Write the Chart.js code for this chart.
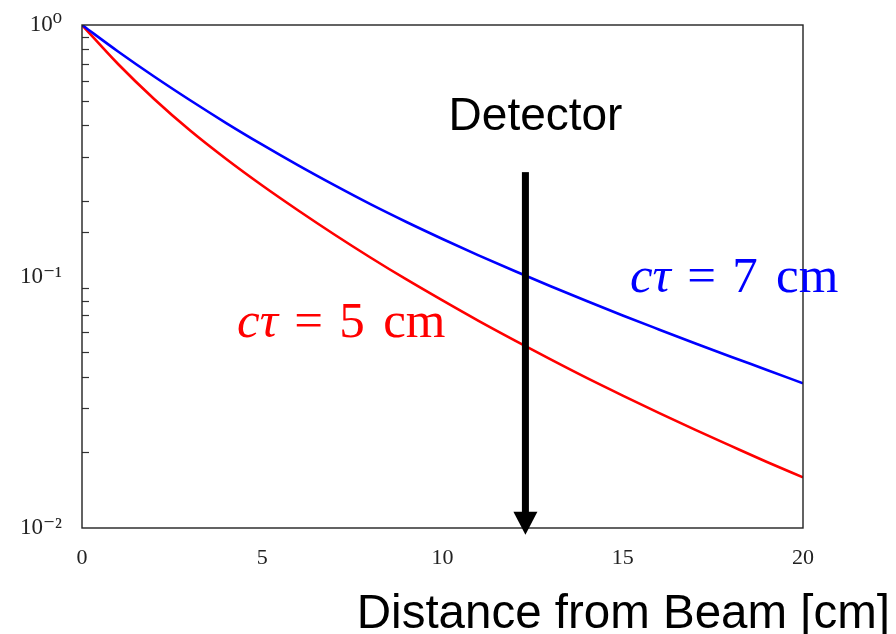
<!DOCTYPE html>
<html>
<head>
<meta charset="utf-8">
<script src="https://cdn.jsdelivr.net/npm/chart.js@4"></script>
<style>
  html, body { margin: 0; padding: 0; background: #ffffff; }
  #wrap { width: 896px; height: 634px; position: relative; }
</style>
</head>
<body>
<div id="wrap"><canvas id="c" width="896" height="634"></canvas></div>
<script>
// ---- data ----
const distance = [0, 1, 2, 3, 4, 5, 6, 7, 8, 9, 10, 11, 12, 13, 14, 15, 16, 17, 18, 19, 20];
const ctau7 = [1.0, 0.7846, 0.6240, 0.5020, 0.4076, 0.3343, 0.2765, 0.2307, 0.1939, 0.1647, 0.1410,
               0.1214, 0.1052, 0.0915, 0.0799, 0.0700, 0.0616, 0.0543, 0.0480, 0.0425, 0.0376];
const ctau5 = [1.0, 0.6997, 0.5078, 0.3805, 0.2932, 0.2300, 0.1830, 0.1469, 0.1190, 0.0973, 0.0803,
               0.0666, 0.0557, 0.0468, 0.0395, 0.0336, 0.0287, 0.0246, 0.0212, 0.0183, 0.0159];
const xTickStep = 5;
const yTickLabels = { "1": "10\u2070", "0.1": "10\u207B\u00B9", "0.01": "10\u207B\u00B2" };

// annotation anchors (data coordinates)
const detectorX = 12.3;
const arrowTopValue = 0.26;
const arrowTipValue = 0.0094;
const detectorLabel = { text: "Detector", x: 12.58, y: 0.3825 };
const label5 = { x: 4.30, y: 0.0575, italic: "c\u03C4", rest: ["=", "5", "cm"], color: "#ff0000" };
const label7 = { x: 15.2, y: 0.0868, italic: "c\u03C4", rest: ["=", "7", "cm"], color: "#0000ff" };
const xTitle = "Distance from Beam [cm]";

const isPow10 = v => Math.abs(Math.log10(v) - Math.round(Math.log10(v))) < 1e-6;

const decorPlugin = {
  id: 'decor',
  afterDraw(chart) {
    const ctx = chart.ctx;
    const ca = chart.chartArea;
    const xs = chart.scales.x, ys = chart.scales.y;
    ctx.save();
    // minor ticks on the left axis (inside)
    ctx.strokeStyle = '#333';
    ctx.lineWidth = 1.2;
    ys.ticks.forEach(t => {
      if (isPow10(t.value)) return;
      const py = Math.round(ys.getPixelForValue(t.value)) + 0.5;
      ctx.beginPath();
      ctx.moveTo(ca.left, py);
      ctx.lineTo(ca.left + 7, py);
      ctx.stroke();
    });
    // frame
    ctx.strokeStyle = '#222';
    ctx.lineWidth = 1.4;
    ctx.strokeRect(ca.left, ca.top, ca.right - ca.left, ca.bottom - ca.top);

    // detector arrow
    const ax = xs.getPixelForValue(detectorX);
    const aTop = ys.getPixelForValue(arrowTopValue);
    const aTip = ys.getPixelForValue(arrowTipValue);
    const headH = 23, headW = 24;
    ctx.fillStyle = '#000';
    ctx.fillRect(ax - 3.5, aTop, 7, (aTip - headH) - aTop + 1);
    ctx.beginPath();
    ctx.moveTo(ax - headW / 2, aTip - headH);
    ctx.lineTo(ax + headW / 2, aTip - headH);
    ctx.lineTo(ax, aTip);
    ctx.closePath();
    ctx.fill();

    // Detector label
    ctx.font = '46px "Liberation Sans", Arial, sans-serif';
    ctx.textAlign = 'center';
    ctx.textBaseline = 'alphabetic';
    ctx.fillStyle = '#000';
    ctx.fillText(detectorLabel.text, xs.getPixelForValue(detectorLabel.x), ys.getPixelForValue(detectorLabel.y));

    // math labels
    const drawMath = (lab) => {
      let px = xs.getPixelForValue(lab.x);
      const py = ys.getPixelForValue(lab.y);
      const size = 51;
      ctx.textAlign = 'left';
      ctx.fillStyle = lab.color;
      ctx.font = 'italic ' + size + 'px "Liberation Serif", "DejaVu Serif", serif';
      ctx.fillText(lab.italic, px, py);
      px += ctx.measureText(lab.italic).width + 0.32 * size;
      ctx.font = size + 'px "Liberation Serif", "DejaVu Serif", serif';
      ctx.fillText(lab.rest[0], px, py);
      px += ctx.measureText(lab.rest[0]).width + 0.32 * size;
      ctx.fillText(lab.rest[1], px, py);
      px += ctx.measureText(lab.rest[1]).width + 0.36 * size;
      ctx.fillText(lab.rest[2], px, py);
    };
    drawMath(label5);
    drawMath(label7);

    // x axis title
    ctx.font = '47.5px "Liberation Sans", Arial, sans-serif';
    ctx.textAlign = 'right';
    ctx.fillStyle = '#000';
    ctx.fillText(xTitle, chart.width - 6, 628);
    ctx.restore();
  }
};

new Chart(document.getElementById('c'), {
  type: 'line',
  data: {
    datasets: [
      {
        label: 'c\u03C4 = 7 cm',
        data: distance.map((x, i) => ({ x: x, y: ctau7[i] })),
        borderColor: '#0000ff',
        borderWidth: 2.6,
        pointRadius: 0,
        fill: false,
        cubicInterpolationMode: 'monotone'
      },
      {
        label: 'c\u03C4 = 5 cm',
        data: distance.map((x, i) => ({ x: x, y: ctau5[i] })),
        borderColor: '#ff0000',
        borderWidth: 2.6,
        pointRadius: 0,
        fill: false,
        cubicInterpolationMode: 'monotone'
      }
    ]
  },
  options: {
    responsive: false,
    animation: false,
    devicePixelRatio: 1,
    layout: { padding: { left: 0, top: 25, right: 93, bottom: 0 } },
    plugins: { legend: { display: false }, tooltip: { enabled: false } },
    scales: {
      x: {
        type: 'linear',
        min: 0, max: 20,
        grid: { display: false },
        border: { display: false },
        ticks: {
          stepSize: xTickStep,
          color: '#222',
          padding: 9,
          font: { family: '"Liberation Serif", "DejaVu Serif", serif', size: 22 }
        },
        afterFit(s) { s.height = 106; s.paddingLeft = 0; s.paddingRight = 0; }
      },
      y: {
        type: 'logarithmic',
        min: 0.01, max: 1,
        grid: { display: false },
        border: { display: false },
        ticks: {
          autoSkip: false,
          color: '#222',
          padding: 12,
          font: { family: '"Liberation Serif", "DejaVu Serif", serif', size: 23 },
          callback(v) {
            if (!isPow10(v)) return '';
            const key = String(Number(v.toPrecision(6)));
            return yTickLabels[key] || '';
          }
        },
        afterFit(s) { s.width = 82; s.paddingTop = 0; s.paddingBottom = 0; }
      }
    }
  },
  plugins: [decorPlugin]
});
</script>
</body>
</html>
